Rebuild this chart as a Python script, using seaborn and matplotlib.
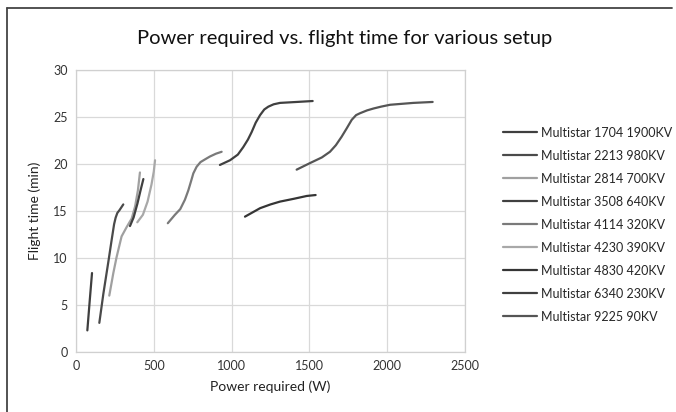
import numpy as np
import pandas as pd
import matplotlib
matplotlib.use("Agg")
import matplotlib.pyplot as plt
from matplotlib.lines import Line2D
import seaborn as sns

labels = ["Multistar 1704 1900KV", "Multistar 2213 980KV", "Multistar 2814 700KV",
          "Multistar 3508 640KV", "Multistar 4114 320KV", "Multistar 4230 390KV",
          "Multistar 4830 420KV", "Multistar 6340 230KV", "Multistar 9225 90KV"]

p1704 = [73, 88, 103]
t1704 = [2.3, 5.4, 8.4]
p2213 = [150, 176, 208, 229, 245, 255, 266, 280, 304]
t2213 = [3.1, 6.2, 9.6, 11.9, 13.6, 14.3, 14.8, 15.1, 15.7]
p2814 = [214, 240, 261, 293, 326, 358, 380, 398, 411]
t2814 = [6.0, 8.4, 10.1, 12.3, 13.3, 14.2, 15.5, 17.2, 19.1]
p3508 = [347, 370, 395, 415, 433]
t3508 = [13.4, 14.3, 15.8, 17.2, 18.4]
p4114 = [590, 636, 670, 700, 722, 740, 754, 775, 800, 830, 861, 900, 936]
t4114 = [13.7, 14.6, 15.2, 16.2, 17.2, 18.2, 19.0, 19.7, 20.2, 20.5, 20.8, 21.1, 21.3]
p4230 = [394, 430, 460, 485, 500, 508]
t4230 = [13.8, 14.6, 16.0, 17.8, 19.2, 20.4]
p4830 = [1086, 1140, 1183, 1250, 1311, 1400, 1483, 1540]
t4830 = [14.4, 14.9, 15.3, 15.7, 16.0, 16.3, 16.6, 16.7]
p6340 = [925, 990, 1040, 1075, 1105, 1129, 1155, 1183, 1210, 1236, 1270, 1311, 1418, 1521]
t6340 = [19.9, 20.4, 21.0, 21.8, 22.6, 23.4, 24.4, 25.2, 25.8, 26.1, 26.35, 26.5, 26.6, 26.7]
p9225 = [1418, 1504, 1580, 1632, 1670, 1707, 1740, 1772, 1800, 1825, 1870, 1911, 1960, 2018, 2168, 2292]
t9225 = [19.4, 20.1, 20.7, 21.3, 22.0, 22.9, 23.8, 24.7, 25.2, 25.4, 25.7, 25.9, 26.1, 26.3, 26.5, 26.6]

powers = [p1704, p2213, p2814, p3508, p4114, p4230, p4830, p6340, p9225]
times = [t1704, t2213, t2814, t3508, t4114, t4230, t4830, t6340, t9225]
colors = ["#3f3f3f", "#4a4a4a", "#a0a0a0", "#404040", "#7a7a7a",
          "#a8a8a8", "#353535", "#404040", "#555555"]

rows = []
for lab, ps, ts in zip(labels, powers, times):
    for i, (p, t) in enumerate(zip(ps, ts)):
        rows.append({"setup": lab, "power": p, "time": t, "order": i})
df = pd.DataFrame(rows)

sns.set_style("white")
plt.rcParams["font.family"] = ["Lato", "DejaVu Sans"]

fig = plt.figure(figsize=(6.76, 4.12), dpi=100)
ax = fig.add_axes([0.1124, 0.1456, 0.5755, 0.6845])

sns.lineplot(data=df, x="power", y="time", hue="setup", hue_order=labels,
             palette=dict(zip(labels, colors)), sort=False, estimator=None,
             linewidth=1.6, ax=ax, legend=False)
for ln in ax.get_lines():
    ln.set_solid_joinstyle("round")
    ln.set_solid_capstyle("round")

ax.set_xlim(0, 2500)
ax.set_ylim(0, 30)
ax.set_xticks([0, 500, 1000, 1500, 2000, 2500])
ax.set_yticks([0, 5, 10, 15, 20, 25, 30])
ax.grid(True, color="#d9d9d9", linewidth=0.9)
ax.set_axisbelow(True)
for s in ax.spines.values():
    s.set_color("#d0d0d0")
    s.set_linewidth(0.9)
ax.tick_params(axis="both", length=0, labelsize=9, colors="#333333", pad=6)
ax.set_xlabel("Power required (W)", fontsize=10, color="#222222", labelpad=6)
ax.set_ylabel("Flight time (min)", fontsize=10, color="#222222", labelpad=9)

fig.text(0.51, 0.907, "Power required vs. flight time for various setup",
         ha="center", va="center", fontsize=14.5, color="#111111")

handles = [Line2D([0], [0], color=c, linewidth=1.6) for c in colors]
fig.legend(handles, labels, loc="upper left", bbox_to_anchor=(0.737, 0.705),
           frameon=False, fontsize=9, handlelength=2.7, handletextpad=0.3,
           labelspacing=0.88, borderaxespad=0)

# outer frame (top and left edges)
fig.add_artist(Line2D([0.0104, 0.994], [0.981, 0.981], transform=fig.transFigure,
                      color="#444444", linewidth=1.3))
fig.add_artist(Line2D([0.0104, 0.0104], [0.0, 0.981], transform=fig.transFigure,
                      color="#444444", linewidth=1.3))

fig.savefig("out.png", dpi=100)
